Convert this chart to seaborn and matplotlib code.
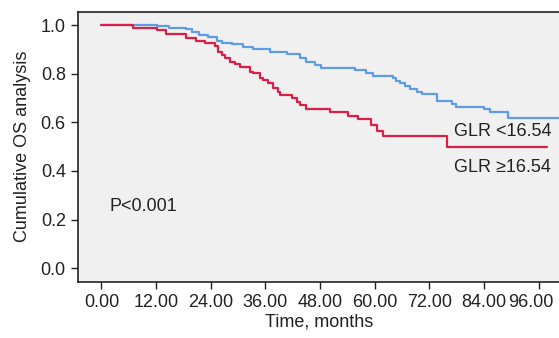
import matplotlib
matplotlib.use("Agg")
import matplotlib.pyplot as plt
import matplotlib.transforms as mtransforms
import seaborn as sns
import pandas as pd

# Kaplan-Meier step data (months, cumulative survival)
low_time = [0, 12.3, 14.9, 18.5, 19.8, 21.5, 23.4, 25.3, 26.5, 28.6, 31.1, 33.3,
            37.0, 40.7, 43.6, 45.0, 46.9, 48.2, 55.7, 58.1, 59.6, 64.0, 64.7,
            65.6, 66.7, 67.8, 69.2, 70.3, 73.6, 77.1, 77.9, 84.0, 85.3, 89.2, 101.0]
low_surv = [1.0, 0.996, 0.988, 0.982, 0.970, 0.960, 0.949, 0.935, 0.927, 0.921,
            0.911, 0.901, 0.888, 0.880, 0.863, 0.849, 0.836, 0.822, 0.815, 0.801,
            0.790, 0.781, 0.770, 0.760, 0.749, 0.736, 0.726, 0.715, 0.688, 0.675,
            0.664, 0.655, 0.644, 0.619, 0.619]

high_time = [0, 6.9, 12.1, 14.1, 18.5, 20.7, 22.8, 24.9, 25.6, 26.4, 27.1, 28.2,
             29.3, 30.4, 32.6, 33.3, 34.8, 35.5, 36.6, 37.7, 38.8, 39.2, 41.8,
             42.9, 43.6, 45.0, 50.2, 54.1, 56.3, 59.3, 60.6, 61.9, 76.0, 97.9]
high_surv = [1.0, 0.990, 0.979, 0.962, 0.948, 0.935, 0.925, 0.914, 0.890, 0.877,
             0.863, 0.849, 0.840, 0.829, 0.808, 0.801, 0.781, 0.774, 0.760, 0.740,
             0.726, 0.712, 0.699, 0.685, 0.671, 0.655, 0.641, 0.627, 0.612, 0.589,
             0.566, 0.544, 0.500, 0.500]

group_labels = ["GLR <16.54", "GLR \u226516.54"]
x_ticks = [0, 12, 24, 36, 48, 60, 72, 84, 96]
x_ticklabels = ["0.00", "12.00", "24.00", "36.00", "48.00", "60.00", "72.00", "84.00", "96.00"]
y_ticks = [0.0, 0.2, 0.4, 0.6, 0.8, 1.0]
y_ticklabels = ["0.0", "0.2", "0.4", "0.6", "0.8", "1.0"]
p_text = "P<0.001"

sns.set_style("ticks")
plt.rcParams['font.family'] = ['Liberation Sans', 'DejaVu Sans']

FS = 13

fig = plt.figure(figsize=(5.59, 3.38), dpi=100)
ax = fig.add_axes([0.140, 0.1667, 0.860, 0.7987])
ax.set_facecolor("#f0f0f0")

df_low = pd.DataFrame({"t": low_time, "s": low_surv})
df_high = pd.DataFrame({"t": high_time, "s": high_surv})

blue = "#5e9de6"
red = "#dc1f47"
sns.lineplot(data=df_low, x="t", y="s", ax=ax, color=blue, lw=1.6,
             drawstyle="steps-post", estimator=None, sort=False)
sns.lineplot(data=df_high, x="t", y="s", ax=ax, color=red, lw=1.6,
             drawstyle="steps-post", estimator=None, sort=False)

ax.set_xlim(-5.1, 100.5)
ax.set_ylim(-0.055, 1.055)
ax.set_xticks(x_ticks)
ax.set_xticklabels(x_ticklabels)
ax.set_yticks(y_ticks)
ax.set_yticklabels(y_ticklabels)
ax.tick_params(axis="both", direction="out", length=5, width=1, color="#222222",
               labelsize=FS, labelcolor="#222222", pad=4)
ax.set_xlabel("Time, months", fontsize=FS, color="#222222", labelpad=2)
ax.set_ylabel("Cumulative OS analysis", fontsize=FS, color="#222222", labelpad=7)

# the last x tick label sits slightly left of its tick so that it fits in the figure
last = ax.get_xticklabels()[-1]
last.set_transform(last.get_transform() +
                   mtransforms.ScaledTranslation(-8 / 100, 0, fig.dpi_scale_trans))

for side in ["left", "bottom", "top"]:
    ax.spines[side].set_visible(True)
    ax.spines[side].set_color("#222222")
    ax.spines[side].set_linewidth(1.2)
ax.spines["right"].set_visible(False)

ax.text(77.4, 0.563, group_labels[0], fontsize=FS, color="#222222", va="center", ha="left")
ax.text(77.4, 0.415, group_labels[1], fontsize=FS, color="#222222", va="center", ha="left")
ax.text(1.8, 0.253, p_text, fontsize=FS, color="#222222", va="center", ha="left")

fig.savefig("out.png", dpi=100, facecolor="white")
